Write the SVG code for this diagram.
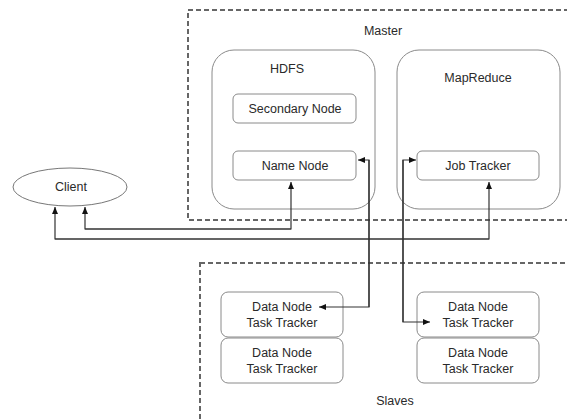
<svg xmlns="http://www.w3.org/2000/svg" width="567" height="420" viewBox="0 0 567 420">
<style>
text{font-family:"Liberation Sans",Arial,sans-serif;font-size:12.5px;fill:#2a2a2a;text-anchor:middle}
.box{fill:#fff;stroke:#8a8a8a;stroke-width:1}
.group{fill:none;stroke:#8a8a8a;stroke-width:1}
.dash{fill:none;stroke:#666;stroke-width:2;stroke-dasharray:5,3}
.conn{fill:none;stroke:#333;stroke-width:1.2}
</style>
<defs>
<marker id="arr" markerWidth="8" markerHeight="8" refX="7" refY="4" orient="auto" markerUnits="userSpaceOnUse">
<path d="M0,1 L7,4 L0,7 Z" fill="#111"/>
</marker>
</defs>
<rect width="567" height="420" fill="#fff"/>
<g id="master">
<rect class="dash" x="188" y="10" width="390" height="210"/>
<text x="383" y="35">Master</text>
</g>
<g id="slaves">
<rect class="dash" x="200" y="263" width="380" height="170"/>
<text x="395" y="405">Slaves</text>
</g>
<g id="hdfs">
<rect class="group" x="212" y="50" width="163" height="159" rx="22"/>
<text x="287" y="73">HDFS</text>
</g>
<g id="mapreduce">
<rect class="group" x="397" y="50" width="163" height="159" rx="22"/>
<text x="478" y="82">MapReduce</text>
</g>
<g id="secondary-node">
<rect class="box" x="233" y="94" width="123" height="29" rx="5"/>
<text x="295" y="113">Secondary Node</text>
</g>
<g id="name-node">
<rect class="box" x="233" y="151" width="123" height="29" rx="5"/>
<text x="295" y="170">Name Node</text>
</g>
<g id="job-tracker">
<rect class="box" x="417" y="151" width="122" height="29" rx="5"/>
<text x="478" y="170">Job Tracker</text>
</g>
<g id="client">
<ellipse cx="70" cy="187" rx="57" ry="19" fill="#fff" stroke="#777" stroke-width="1"/>
<text x="71" y="191">Client</text>
</g>
<g id="slave-1a">
<rect class="box" x="221" y="292" width="122" height="45" rx="7"/>
<text x="282" y="311">Data Node</text>
<text x="282" y="327">Task Tracker</text>
</g>
<g id="slave-1b">
<rect class="box" x="221" y="338" width="122" height="45" rx="7"/>
<text x="282" y="357">Data Node</text>
<text x="282" y="373">Task Tracker</text>
</g>
<g id="slave-2a">
<rect class="box" x="417" y="292" width="122" height="45" rx="7"/>
<text x="478" y="311">Data Node</text>
<text x="478" y="327">Task Tracker</text>
</g>
<g id="slave-2b">
<rect class="box" x="417" y="338" width="122" height="45" rx="7"/>
<text x="478" y="357">Data Node</text>
<text x="478" y="373">Task Tracker</text>
</g>
<g id="connectors">
<polyline class="conn" points="369,307 369,160 358,160" marker-end="url(#arr)"/>
<polyline class="conn" points="369,160 369,307 319,307" marker-end="url(#arr)"/>
<polyline class="conn" points="403,322 403,160 416,160" marker-end="url(#arr)"/>
<polyline class="conn" points="403,160 403,322 430,322" marker-end="url(#arr)"/>
<polyline class="conn" points="55,239 489,239 489,182" marker-end="url(#arr)"/>
<polyline class="conn" points="489,239 55,239 55,207" marker-end="url(#arr)"/>
<polyline class="conn" points="85,229 291,229 291,182" marker-end="url(#arr)"/>
<polyline class="conn" points="291,229 85,229 85,207" marker-end="url(#arr)"/>
</g>
</svg>
